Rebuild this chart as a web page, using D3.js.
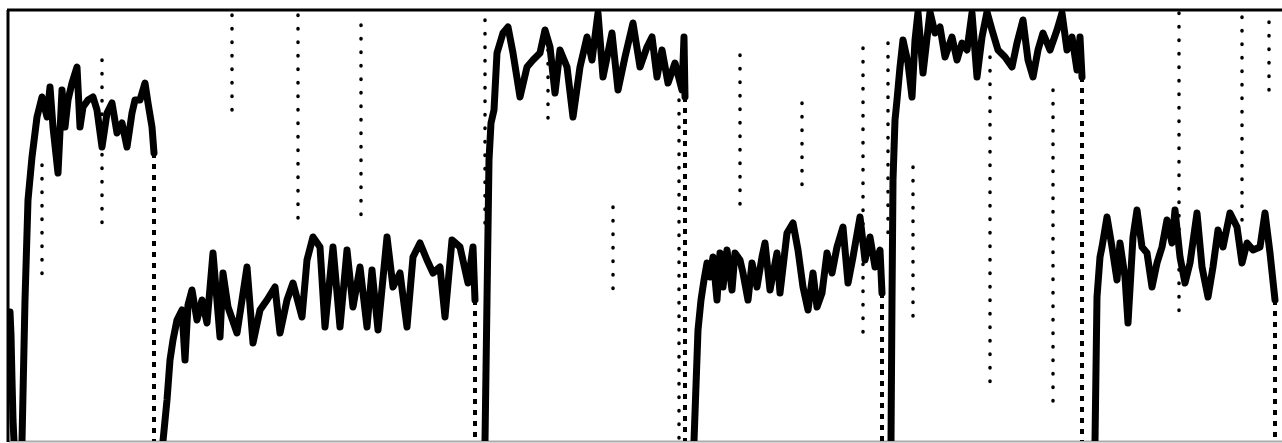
<!DOCTYPE html>
<html>
<head>
<meta charset="utf-8">
<script src="https://cdn.jsdelivr.net/npm/d3@7"></script>
<style>
  html, body { margin: 0; padding: 0; background: #fff; }
</style>
</head>
<body>
<div id="chart"></div>
<script>
// recorder trace: t = chart position, v = pen level (0 = baseline)
const seg0_t = [1, 2, 3, 4, 5];
const seg0_v = [129, 106, 61, 21, 0];

const segA_t = [13, 16, 19, 23, 26, 28, 33, 38, 41, 44, 49, 53, 56, 59, 63, 68, 71, 74, 79, 84, 88, 93, 98, 103, 108, 113, 118, 123, 126, 131, 136, 139, 143, 145];
const segA_v = [0, 141, 241, 284, 308, 324, 344, 324, 354, 314, 268, 351, 314, 341, 358, 374, 314, 334, 341, 344, 331, 294, 328, 338, 308, 318, 294, 328, 341, 341, 358, 338, 314, 288];

const segB_t = [154, 158, 161, 164, 168, 173, 176, 179, 183, 188, 193, 198, 204, 211, 214, 219, 228, 233, 238, 244, 251, 258, 266, 271, 278, 284, 293, 298, 304, 311, 316, 324, 331, 338, 344, 351, 358, 363, 369, 378, 384, 391, 398, 404, 411, 418, 424, 431, 436, 443, 451, 459, 464, 466];
const segB_v = [0, 41, 81, 101, 121, 131, 81, 136, 151, 121, 141, 118, 188, 104, 168, 134, 108, 141, 174, 98, 131, 141, 154, 108, 141, 158, 124, 181, 204, 194, 114, 194, 114, 191, 134, 174, 114, 171, 111, 204, 154, 168, 114, 184, 198, 181, 168, 174, 124, 201, 194, 158, 194, 141];

const segC_t = [476, 478, 480, 482, 485, 488, 494, 499, 504, 511, 518, 524, 531, 536, 541, 546, 551, 558, 564, 571, 578, 583, 589, 594, 603, 609, 616, 624, 631, 638, 643, 648, 653, 659, 666, 673, 675, 676];
const segC_v = [0, 141, 281, 318, 331, 388, 408, 414, 388, 344, 374, 381, 388, 411, 394, 348, 391, 374, 324, 374, 404, 381, 428, 364, 408, 351, 384, 418, 374, 394, 404, 364, 391, 358, 378, 351, 404, 344];

const segD_t = [685, 689, 692, 695, 698, 701, 704, 708, 711, 714, 718, 723, 726, 731, 734, 739, 743, 748, 753, 756, 761, 768, 771, 778, 784, 789, 794, 799, 804, 808, 813, 818, 823, 828, 834, 839, 844, 851, 856, 861, 866, 871, 873];
const segD_v = [0, 111, 141, 161, 178, 164, 184, 141, 188, 154, 191, 151, 188, 181, 168, 141, 178, 154, 184, 198, 151, 188, 148, 208, 218, 191, 154, 131, 168, 134, 148, 188, 168, 194, 214, 158, 184, 224, 181, 204, 174, 191, 148];

const segE_t = [882, 883, 884, 886, 888, 891, 894, 899, 903, 906, 909, 914, 921, 926, 931, 936, 943, 948, 953, 958, 963, 968, 973, 978, 983, 989, 996, 1003, 1008, 1014, 1019, 1024, 1029, 1034, 1041, 1048, 1053, 1058, 1063, 1068, 1071, 1073];
const segE_v = [0, 141, 261, 321, 341, 374, 401, 378, 344, 401, 429, 368, 429, 408, 414, 384, 404, 381, 398, 391, 428, 364, 404, 429, 411, 391, 384, 374, 398, 421, 381, 364, 391, 408, 391, 411, 428, 391, 404, 371, 404, 364];

const segF_t = [1086, 1088, 1091, 1093, 1098, 1103, 1108, 1111, 1116, 1119, 1124, 1128, 1133, 1138, 1143, 1148, 1153, 1158, 1163, 1166, 1171, 1176, 1181, 1188, 1193, 1199, 1204, 1209, 1214, 1221, 1228, 1233, 1238, 1244, 1251, 1256, 1261, 1266];
const segF_v = [0, 144, 184, 194, 224, 194, 161, 198, 164, 118, 204, 231, 194, 188, 154, 178, 194, 221, 198, 231, 184, 158, 178, 228, 174, 144, 174, 211, 194, 228, 214, 178, 198, 191, 194, 228, 188, 141];

// dotted marks on the chart paper (position, top level, bottom level)
const gridT = [33, 93, 223, 289, 352, 476, 539, 604, 670, 731, 793, 854, 879, 904, 981, 1044, 1170, 1233, 1260];
const gridTop = [276, 381, 426, 426, 416, 421, 391, 234, 341, 386, 338, 393, 398, 274, 384, 351, 428, 424, 419];
const gridBottom = [161, 211, 326, 221, 226, 211, 311, 144, 0, 229, 256, 104, 208, 124, 48, 31, 121, 214, 338];

const width = 1282;
const height = 443;

const segments = [
  [seg0_t, seg0_v], [segA_t, segA_v], [segB_t, segB_v], [segC_t, segC_v],
  [segD_t, segD_v], [segE_t, segE_v], [segF_t, segF_v]
].map(([t, v]) => t.map((d, i) => ({ t: d, v: v[i] })));

const x = d3.scaleLinear().domain([0, 1271]).range([9, 1280]);
const y = d3.scaleLinear().domain([0, 431]).range([441, 10]);

const svg = d3.select("#chart")
  .append("svg")
  .attr("width", width)
  .attr("height", height);

svg.append("rect")
  .attr("width", width)
  .attr("height", height)
  .attr("fill", "#fff");

svg.append("clipPath")
  .attr("id", "plot")
  .append("rect")
  .attr("x", x(0))
  .attr("y", y(431))
  .attr("width", x(1271) - x(0) + 2)
  .attr("height", y(0) - y(431));

// paper dots
svg.append("g")
  .selectAll("line")
  .data(gridT)
  .join("line")
  .attr("x1", d => x(d))
  .attr("x2", d => x(d))
  .attr("y1", (d, i) => y(gridTop[i]))
  .attr("y2", (d, i) => y(gridBottom[i]))
  .attr("stroke", "#000")
  .attr("stroke-width", 3.5)
  .attr("stroke-linecap", "round")
  .attr("stroke-dasharray", "0.5,13");

// baseline
svg.append("line")
  .attr("x1", x(0)).attr("x2", width)
  .attr("y1", y(0) + 0.5).attr("y2", y(0) + 0.5)
  .attr("stroke", "#aaa")
  .attr("stroke-width", 2);

const line = d3.line()
  .x(d => x(d.t))
  .y(d => y(d.v));

const trace = svg.append("g").attr("clip-path", "url(#plot)");

// fast pen returns leave a dotted trail
trace.selectAll(".drop")
  .data(segments.filter(s => s[s.length - 1].v > 0))
  .join("line")
  .attr("class", "drop")
  .attr("x1", s => x(s[s.length - 1].t))
  .attr("x2", s => x(s[s.length - 1].t))
  .attr("y1", s => y(s[s.length - 1].v))
  .attr("y2", y(0))
  .attr("stroke", "#000")
  .attr("stroke-width", 4)
  .attr("stroke-dasharray", "5,6");

trace.selectAll(".seg")
  .data(segments)
  .join("path")
  .attr("class", "seg")
  .attr("d", line)
  .attr("fill", "none")
  .attr("stroke", "#000")
  .attr("stroke-width", 7)
  .attr("stroke-linejoin", "round")
  .attr("stroke-linecap", "round");

// frame: heavy top and left edges
svg.append("line")
  .attr("x1", 7).attr("x2", width)
  .attr("y1", y(431)).attr("y2", y(431))
  .attr("stroke", "#000")
  .attr("stroke-width", 3);

svg.append("line")
  .attr("x1", x(0) - 1).attr("x2", x(0) - 1)
  .attr("y1", y(431)).attr("y2", y(0) + 1)
  .attr("stroke", "#000")
  .attr("stroke-width", 3);
</script>
</body>
</html>
